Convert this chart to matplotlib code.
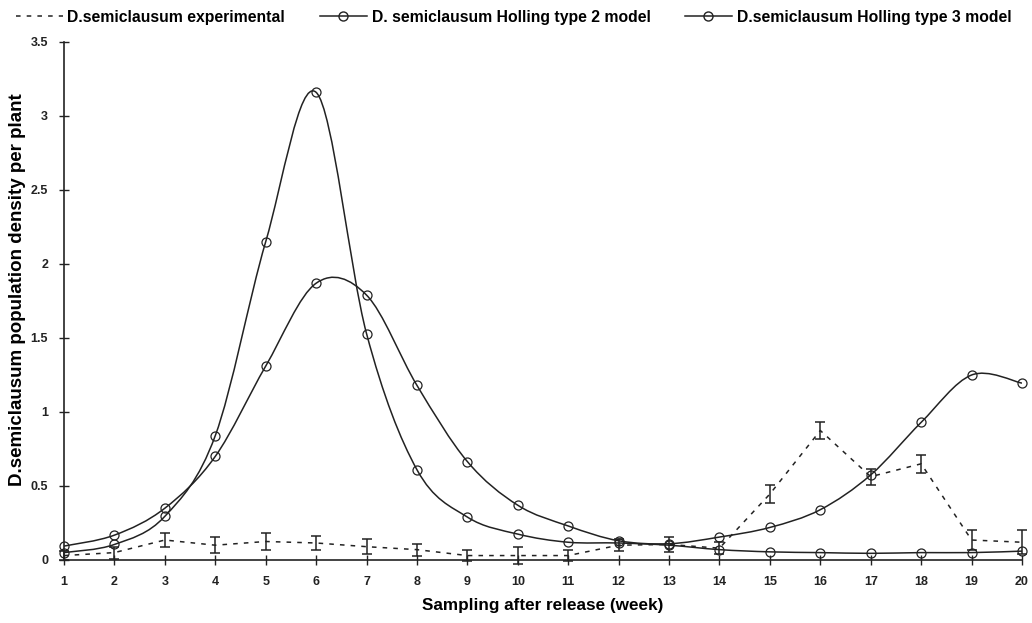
import numpy as np
import matplotlib
matplotlib.use("Agg")
import matplotlib.pyplot as plt
from matplotlib.path import Path
from matplotlib.patches import PathPatch
from matplotlib.lines import Line2D

plt.rcParams['font.family'] = ['Liberation Sans', 'DejaVu Sans']

# date
weeks = np.arange(1, 21)
exp_mean = [0.03, 0.05, 0.135, 0.10, 0.125, 0.115, 0.09, 0.07, 0.03, 0.03,
            0.03, 0.10, 0.105, 0.08, 0.446, 0.875, 0.563, 0.65, 0.135, 0.12]
exp_err = [0.03, 0.04, 0.045, 0.055, 0.055, 0.05, 0.05, 0.04, 0.04, 0.06,
           0.04, 0.04, 0.05, 0.04, 0.06, 0.06, 0.055, 0.06, 0.07, 0.08]
holling2 = [0.05, 0.105, 0.295, 0.84, 2.15, 3.16, 1.53, 0.61, 0.29, 0.175,
            0.12, 0.115, 0.10, 0.07, 0.055, 0.05, 0.045, 0.05, 0.05, 0.06]
holling3 = [0.094, 0.168, 0.35, 0.70, 1.31, 1.87, 1.79, 1.18, 0.665, 0.37,
            0.23, 0.13, 0.11, 0.155, 0.22, 0.34, 0.575, 0.93, 1.25, 1.195]

labels = ['D.semiclausum experimental',
          'D. semiclausum Holling type 2 model',
          'D.semiclausum Holling type 3 model']


def smooth_path(x, y):
    # curba neteda tip Excel (Bezier prin puncte)
    pts = np.column_stack([x, y]).astype(float)
    ext = np.vstack([pts[0], pts, pts[-1]])
    verts = [pts[0]]
    codes = [Path.MOVETO]
    for i in range(1, len(ext) - 2):
        p0, p1, p2, p3 = ext[i - 1], ext[i], ext[i + 1], ext[i + 2]
        verts += [p1 + (p2 - p0) / 6, p2 - (p3 - p1) / 6, p2]
        codes += [Path.CURVE4] * 3
    return Path(verts, codes)


fig = plt.figure(figsize=(10.32, 6.23), dpi=100)
ax = fig.add_axes([64 / 1032, 1 - 560 / 623, (1022 - 64) / 1032, (560 - 42) / 623])

for series in (holling2, holling3):
    ax.add_patch(PathPatch(smooth_path(weeks, series), facecolor='none',
                           edgecolor='#222222', linewidth=1.1, zorder=3))
    ax.plot(weeks, series, linestyle='none', marker='o', markersize=6.5,
            markerfacecolor='none', markeredgecolor='#222222',
            markeredgewidth=0.9, zorder=4, clip_on=False)

ax.errorbar(weeks, exp_mean, yerr=exp_err, color='#222222', linewidth=1.1,
            linestyle=(0, (3, 4)), capsize=3.5, elinewidth=1.1, capthick=1.1,
            zorder=5, clip_on=False)

ax.set_xlim(1, 20)
ax.set_ylim(0, 3.5)
ax.set_xticks(weeks)
ax.set_yticks([0, 0.5, 1, 1.5, 2, 2.5, 3, 3.5])
ax.set_yticklabels(['0', '0.5', '1', '1.5', '2', '2.5', '3', '3.5'])
ax.spines['top'].set_visible(False)
ax.spines['right'].set_visible(False)
for s in ('left', 'bottom'):
    ax.spines[s].set_linewidth(1.2)
    ax.spines[s].set_color('#222222')
ax.tick_params(direction='inout', length=7, width=1, colors='#222222',
               labelsize=9, pad=8)
for lab in ax.get_xticklabels() + ax.get_yticklabels():
    lab.set_fontweight('bold')

ax.set_xlabel('Sampling after release (week)', fontsize=12.3,
              fontweight='bold', labelpad=7)
ax.set_ylabel('D.semiclausum population density per plant', fontsize=13.5,
              fontweight='bold')
ax.yaxis.set_label_coords(-0.04, 0.521)

handles = [
    Line2D([], [], color='#222222', linestyle=(0, (3, 4)), linewidth=1.1),
    Line2D([], [], color='#222222', linewidth=1.1, marker='o', markersize=6.5,
           markerfacecolor='none'),
    Line2D([], [], color='#222222', linewidth=1.1, marker='o', markersize=6.5,
           markerfacecolor='none'),
]
fig.legend(handles, labels, loc='center', bbox_to_anchor=(0.4976, 0.972),
           ncol=3, frameon=False, prop={'size': 11.3, 'weight': 'bold'},
           handlelength=3.0, columnspacing=2.2, handletextpad=0.3)

fig.savefig('out.png', dpi=100, facecolor='white')
